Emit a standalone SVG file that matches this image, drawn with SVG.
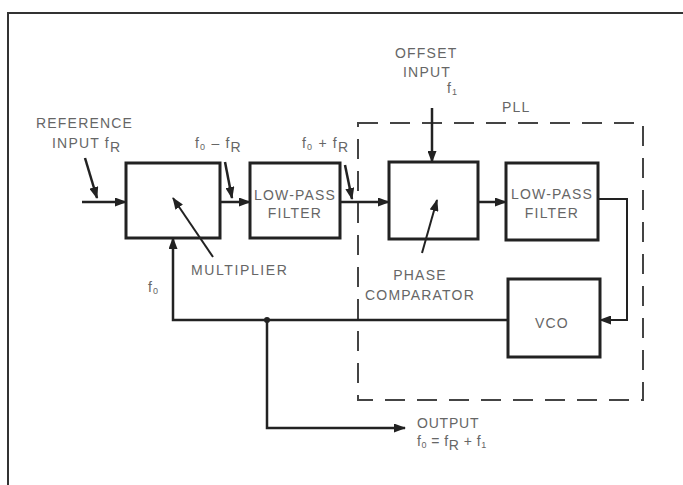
<svg xmlns="http://www.w3.org/2000/svg" width="683" height="485" viewBox="0 0 683 485">
<defs>
<marker id="ah" markerUnits="userSpaceOnUse" markerWidth="12" markerHeight="9" refX="11" refY="4.5" orient="auto">
<path d="M0,0 L12,4.5 L0,9 z" fill="#222"/>
</marker>
<style>
.box{fill:#fff;stroke:#222;stroke-width:3}
.ln{fill:none;stroke:#222;stroke-width:2.5}
.thin{fill:none;stroke:#222;stroke-width:2}
.t{font-family:"Liberation Sans",Arial,sans-serif;font-size:14px;fill:#666;letter-spacing:1.2px}
.c{text-anchor:middle}
.sub{font-size:9px}
</style>
</defs>
<rect width="683" height="485" fill="#fff"/>
<path d="M8,485 L8,13 L683,13" fill="none" stroke="#333" stroke-width="2"/>
<rect id="pll" x="358" y="123" width="285" height="277" fill="none" stroke="#444" stroke-width="2" stroke-dasharray="20 12"/>
<g id="multiplier"><rect class="box" x="126" y="163" width="94" height="75"/></g>
<g id="lpf1"><rect class="box" x="250" y="163" width="90" height="75"/>
<text class="t c" x="295" y="200">LOW-PASS</text><text class="t c" x="295" y="218">FILTER</text></g>
<g id="phasecomp"><rect class="box" x="389" y="162" width="89" height="77"/></g>
<g id="lpf2"><rect class="box" x="506" y="163" width="92" height="77"/>
<text class="t c" x="552" y="199">LOW-PASS</text><text class="t c" x="552" y="218">FILTER</text></g>
<g id="vco"><rect class="box" x="508" y="279" width="92" height="78"/>
<text class="t c" x="552" y="328">VCO</text></g>
<g id="connectors">
<line class="ln" x1="82" y1="202" x2="126" y2="202" marker-end="url(#ah)"/>
<line class="ln" x1="85" y1="158" x2="97" y2="198" marker-end="url(#ah)"/>
<line class="ln" x1="220" y1="202" x2="250" y2="202" marker-end="url(#ah)"/>
<line class="ln" x1="225" y1="162" x2="232" y2="198" marker-end="url(#ah)"/>
<line class="ln" x1="340" y1="202" x2="389" y2="202" marker-end="url(#ah)"/>
<line class="ln" x1="345" y1="165" x2="352" y2="199" marker-end="url(#ah)"/>
<line class="ln" x1="432" y1="108" x2="432" y2="162" marker-end="url(#ah)"/>
<line class="ln" x1="478" y1="202" x2="506" y2="202" marker-end="url(#ah)"/>
<polyline class="thin" points="598,199 627,199 627,320 600,320" marker-end="url(#ah)"/>
<polyline class="ln" points="508,320 173,320 173,238" marker-end="url(#ah)"/>
<polyline class="ln" points="267,320 267,428 405,428" marker-end="url(#ah)"/>
<circle cx="267" cy="320" r="3" fill="#222"/>
<line class="thin" x1="213" y1="257" x2="173" y2="198" marker-end="url(#ah)"/>
<line class="thin" x1="422" y1="253" x2="437" y2="200" marker-end="url(#ah)"/>
</g>
<g id="labels">
<text class="t" x="36" y="128">REFERENCE</text>
<text class="t" x="52" y="148">INPUT f<tspan dy="4">R</tspan></text>
<text class="t" x="195" y="148">f<tspan class="sub" dy="2">0</tspan><tspan dy="-2"> – f</tspan><tspan dy="4">R</tspan></text>
<text class="t" x="302" y="148">f<tspan class="sub" dy="2">0</tspan><tspan dy="-2"> + f</tspan><tspan dy="4">R</tspan></text>
<text class="t" x="395" y="58">OFFSET</text>
<text class="t" x="403" y="77">INPUT</text>
<text class="t" x="447" y="93">f<tspan class="sub" dy="2">1</tspan></text>
<text class="t" x="502" y="112">PLL</text>
<text class="t" x="191" y="275" style="letter-spacing:1.6px">MULTIPLIER</text>
<text class="t" x="148" y="292">f<tspan class="sub" dy="2">0</tspan></text>
<text class="t c" x="420" y="280">PHASE</text>
<text class="t c" x="420" y="300">COMPARATOR</text>
<text class="t" x="417" y="428" style="letter-spacing:0.8px">OUTPUT</text>
<text class="t" x="417" y="446" style="letter-spacing:0.5px">f<tspan class="sub" dy="2">0</tspan><tspan dy="-2"> = f</tspan><tspan dy="4">R</tspan><tspan dy="-4"> + f</tspan><tspan class="sub" dy="2">1</tspan></text>
</g>
</svg>
